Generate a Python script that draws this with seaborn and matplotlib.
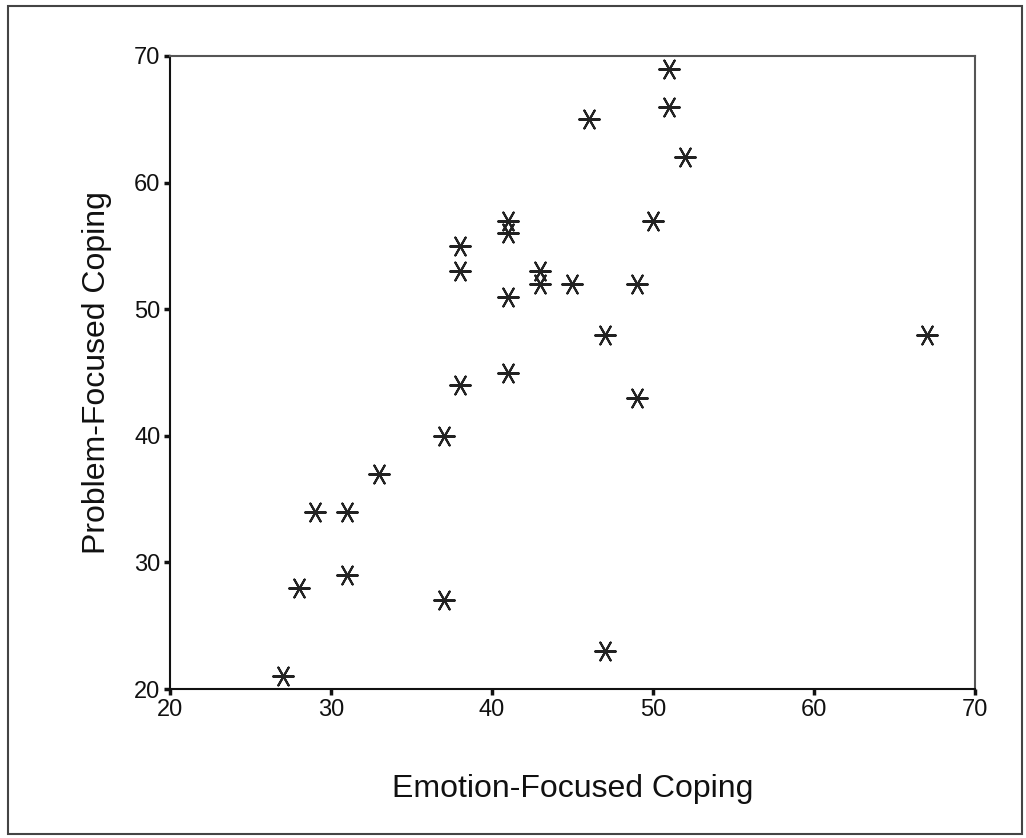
import pandas as pd
import seaborn as sns
import matplotlib.pyplot as plt
from matplotlib.patches import Rectangle

# values
emotion = [27, 28, 29, 31, 31, 33, 37, 37, 38, 38, 38, 41, 41, 41, 41,
           43, 43, 45, 46, 47, 47, 49, 49, 50, 51, 51, 52, 67]
problem = [21, 28, 34, 34, 29, 37, 40, 27, 44, 53, 55, 57, 56, 51, 45,
           53, 52, 52, 65, 48, 23, 52, 43, 57, 69, 66, 62, 48]
ticks = [20, 30, 40, 50, 60, 70]

df = pd.DataFrame({'Emotion-Focused Coping': emotion,
                   'Problem-Focused Coping': problem})

sns.set_style('white')
plt.rcParams['font.family'] = ['Liberation Sans', 'DejaVu Sans']

fig = plt.figure(figsize=(10.26, 8.38), dpi=100)
ax = fig.add_axes([170/1026, 1-689/838, (975-170)/1026, (689-56)/838])

sns.scatterplot(data=df, x='Emotion-Focused Coping', y='Problem-Focused Coping',
                marker=(6, 2, 90), s=220, color='#222222', linewidth=1.5,
                edgecolor='#222222', ax=ax)

ax.set_xlim(20, 70)
ax.set_ylim(20, 70)
ax.set_xticks(ticks)
ax.set_yticks(ticks)
ax.tick_params(bottom=True, left=True, direction='out', length=4, width=2.5,
               labelsize=17, colors='#111111', pad=3)
ax.set_xlabel('Emotion-Focused Coping', fontsize=23, labelpad=38, color='#111111')
ax.set_ylabel('Problem-Focused Coping', fontsize=23, labelpad=16, color='#111111')

for side in ['left', 'bottom']:
    ax.spines[side].set_color('#111111')
    ax.spines[side].set_linewidth(1.5)
for side in ['top', 'right']:
    ax.spines[side].set_color('#555555')
    ax.spines[side].set_linewidth(1.5)

# outer frame around the whole picture
fig.patches.append(Rectangle((8/1026, 4/838), 1014/1026, 828/838, transform=fig.transFigure,
                             fill=False, edgecolor='#444444', linewidth=1.5))

fig.savefig('out.png', dpi=100)
